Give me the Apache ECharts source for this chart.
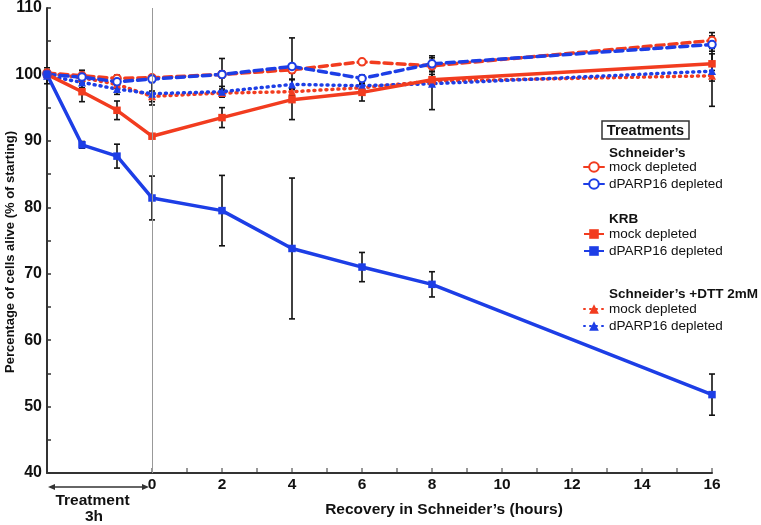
<!DOCTYPE html>
<html><head><meta charset="utf-8">
<script src="https://cdn.jsdelivr.net/npm/echarts@6/dist/echarts.min.js"></script>
<style>html,body{margin:0;padding:0;background:#fff}#c{width:761px;height:525px}</style>
</head><body><div id="c"></div>
<script>
// ---- data ----
const times = [-3, -2, -1, 0, 2, 4, 6, 8, 16];
const xTickValues = [0,1,2,3,4,5,6,7,8,9,10,11,12,13,14,15,16];

const schMock  = [100.2, 99.8, 99.4, 99.5, 100.0, 100.7, 101.9, 101.3, 105.1];
const schPARP  = [100.0, 99.6, 98.9, 99.3, 100.0, 101.2, 99.4, 101.6, 104.5];
const krbMock  = [100.0, 97.4, 94.6, 90.7, 93.5, 96.2, 97.3, 99.2, 101.6];
const krbPARP  = [100.0, 89.4, 87.7, 81.4, 79.5, 73.8, 71.0, 68.4, 51.8];
const dttMock  = [100.2, 99.5, 98.5, 96.7, 97.2, 97.4, 98.0, 99.0, 99.8];
const dttPARP  = [99.8, 98.8, 97.8, 97.1, 97.4, 98.5, 98.3, 98.6, 100.5];

const schMockErr = [0.4, 0.8, 0.5, 0.4, 0.5, 0.5, 0.4, 0.8, 1.2];
const schPARPErr = [0.6, 1.0, 0.5, 0.4, 2.4, 4.3, 0.5, 1.2, 1.0];
const krbMockErr = [0.5, 1.5, 1.4, 0.3, 1.5, 3.0, 1.3, 0.8, 1.5];
const krbPARPErr = [0.3, 0.5, 1.8, 3.3, 5.3, 10.6, 2.2, 1.9, 3.1];
const dttMockErr = [0.5, 0.5, 0.6, 0.8, 0.6, 0.5, 0.5, 0.5, 0.8];
const dttPARPErr = [1.2, 0.8, 0.8, 1.7, 0.8, 0.8, 0.6, 3.9, 5.3];

const RED = '#f23c1f', BLUE = '#1d3ee6';
const FONT = 'Liberation Sans, Arial, Helvetica, sans-serif';

function pts(vals){ return times.map((t,i)=>[t, vals[i]]); }
function errs(vals, e){ return times.map((t,i)=>[t, vals[i]-e[i], vals[i]+e[i]]); }

const errData = [].concat(
  errs(schMock, schMockErr), errs(schPARP, schPARPErr),
  errs(krbMock, krbMockErr), errs(krbPARP, krbPARPErr),
  errs(dttMock, dttMockErr), errs(dttPARP, dttPARPErr));

function lineSeries(name, vals, color, type, symbol, hollow){
  return {
    name: name, type: 'line', data: pts(vals), z: 3,
    symbol: symbol, symbolSize: symbol === 'triangle' ? 8 : (symbol === 'rect' ? 7.5 : 7.5),
    lineStyle: {color: color, width: 3.5, type: type, cap: type === 'solid' ? 'butt' : 'round'},
    itemStyle: hollow ? {color: '#fff', borderColor: color, borderWidth: 2} : {color: color},
    emphasis: {disabled: true}, animation: false
  };
}

function txt(x, y, text, font, align){
  return {type: 'text', x: x, y: y, style: {text: text, font: font, fill: '#111',
    align: align || 'left', verticalAlign: 'middle'}};
}

const chart = echarts.init(document.getElementById('c'), null, {renderer: 'canvas'});
const legendBase = {
  orient: 'vertical', left: 583, itemWidth: 20, itemHeight: 12, itemGap: 3, padding: 0,
  selectedMode: false,
  textStyle: {fontSize: 13.5, color: '#111', fontFamily: FONT},
  formatter: n => n.split('|')[1]
};
chart.setOption({
  animation: false,
  grid: {left: 47, right: 49, top: 5, bottom: 52},
  xAxis: {
    type: 'value', min: -3, max: 16, interval: 1,
    axisLine: {onZero: false, lineStyle: {color: '#333', width: 2}},
    axisTick: {show: false}, splitLine: {show: false},
    axisLabel: {
      margin: 4, fontSize: 15.5, fontWeight: 'bold', color: '#111', fontFamily: FONT,
      formatter: v => (v >= 0 && v % 2 === 0) ? String(v) : ''
    }
  },
  yAxis: {
    type: 'value', min: 40, max: 110, interval: 10,
    axisLine: {show: true, onZero: false, lineStyle: {color: '#333', width: 2}},
    axisTick: {show: true, inside: true, length: 4, lineStyle: {color: '#333', width: 1.5}},
    minorTick: {show: true, splitNumber: 2, length: 4, lineStyle: {color: '#333', width: 1.5}},
    splitLine: {show: false},
    axisLabel: {margin: 5, fontSize: 16, fontWeight: 'bold', color: '#111', fontFamily: FONT}
  },
  legend: [
    Object.assign({}, legendBase, {top: 160, data: ['s1|mock depleted', 's2|dPARP16 depleted']}),
    Object.assign({}, legendBase, {top: 227, data: ['k1|mock depleted', 'k2|dPARP16 depleted']}),
    Object.assign({}, legendBase, {top: 302, data: ['d1|mock depleted', 'd2|dPARP16 depleted']})
  ],
  series: [
    {
      type: 'custom', name: 'xticks', z: 1, silent: true,
      data: xTickValues.map(v => [v]),
      encode: {x: 0},
      renderItem: function(params, api){
        const p = api.coord([api.value(0), 40]);
        return {type: 'line', shape: {x1: p[0], y1: p[1], x2: p[0], y2: p[1]-5},
                style: {stroke: '#333', lineWidth: 1}};
      }
    },
    {
      type: 'custom', name: 'errors', z: 2, silent: true,
      data: errData, encode: {x: 0, y: [1, 2]},
      renderItem: function(params, api){
        const x = api.value(0);
        const lo = api.coord([x, api.value(1)]);
        const hi = api.coord([x, api.value(2)]);
        const w = 3;
        const st = {stroke: '#111', lineWidth: 1.6};
        return {type: 'group', children: [
          {type: 'line', shape: {x1: lo[0], y1: lo[1], x2: hi[0], y2: hi[1]}, style: st},
          {type: 'line', shape: {x1: lo[0]-w, y1: lo[1], x2: lo[0]+w, y2: lo[1]}, style: st},
          {type: 'line', shape: {x1: hi[0]-w, y1: hi[1], x2: hi[0]+w, y2: hi[1]}, style: st}
        ]};
      }
    },
    lineSeries('d1|mock depleted', dttMock, RED, [1, 5], 'triangle', false),
    lineSeries('d2|dPARP16 depleted', dttPARP, BLUE, [1, 5], 'triangle', false),
    lineSeries('s1|mock depleted', schMock, RED, [8, 5], 'circle', true),
    lineSeries('s2|dPARP16 depleted', schPARP, BLUE, [8, 5], 'circle', true),
    Object.assign(lineSeries('k1|mock depleted', krbMock, RED, 'solid', 'rect', false),
      {markLine: {silent: true, symbol: 'none', label: {show: false},
        lineStyle: {color: '#999', width: 1, type: 'solid'}, data: [{xAxis: 0}]}}),
    lineSeries('k2|dPARP16 depleted', krbPARP, BLUE, 'solid', 'rect', false)
  ],
  graphic: [
    {type: 'rect', shape: {x: 602, y: 121, width: 87, height: 18},
     style: {fill: 'none', stroke: '#333', lineWidth: 1.5}},
    txt(645.5, 130.5, 'Treatments', 'bold 14.5px ' + FONT, 'center'),
    txt(609, 153, 'Schneider’s', 'bold 13.5px ' + FONT),
    txt(609, 219, 'KRB', 'bold 13.5px ' + FONT),
    txt(609, 294, 'Schneider’s +DTT 2mM', 'bold 13.5px ' + FONT),
    {type: 'text', x: 10, y: 252, rotation: Math.PI/2,
     style: {text: 'Percentage of cells alive (% of starting)', font: 'bold 13px ' + FONT,
      fill: '#111', align: 'center', verticalAlign: 'middle'}},
    txt(444, 510, 'Recovery in Schneider’s (hours)', 'bold 15.5px ' + FONT, 'center'),
    txt(92.5, 501, 'Treatment', 'bold 15.5px ' + FONT, 'center'),
    txt(94, 517, '3h', 'bold 15.5px ' + FONT, 'center'),
    {type: 'line', shape: {x1: 52, y1: 487, x2: 144, y2: 487}, style: {stroke: '#333', lineWidth: 1.5}},
    {type: 'polygon', shape: {points: [[48, 487], [55, 484], [55, 490]]}, style: {fill: '#333'}},
    {type: 'polygon', shape: {points: [[149, 487], [142, 484], [142, 490]]}, style: {fill: '#333'}}
  ]
});
</script>
</body></html>
